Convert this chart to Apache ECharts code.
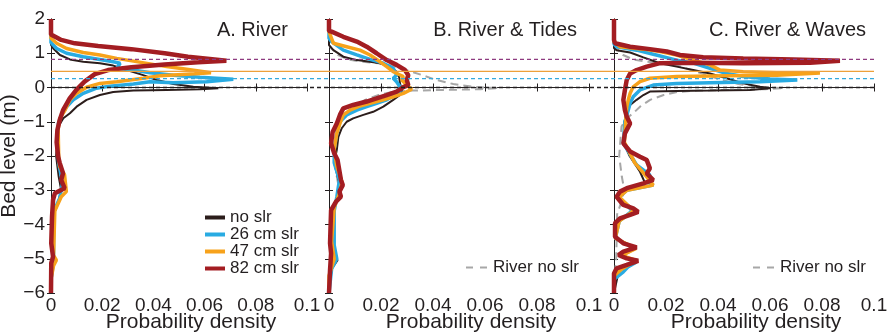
<!DOCTYPE html>
<html>
<head>
<meta charset="utf-8">
<script src="https://cdn.jsdelivr.net/npm/echarts@6/dist/echarts.min.js"></script>
<style>
  html, body { margin: 0; padding: 0; background: #fff; }
  #chart { width: 891px; height: 336px; }
</style>
</head>
<body>
<div id="chart"></div>
<script>
// profiles as [probability density, bed level (m)], read top to bottom
const riverNoSlr = [[0,2],[0,1.25],[0.0009,1.14],[0.0035,0.95],[0.0074,0.82],[0.0126,0.75],[0.0191,0.71],[0.0243,0.64],[0.0296,0.51],[0.036,0.36],[0.0413,0.22],[0.0478,0.10],[0.0556,0.02],[0.0654,-0.02],[0.0582,-0.05],[0.0452,-0.07],[0.0322,-0.09],[0.0243,-0.13],[0.0191,-0.22],[0.0139,-0.36],[0.01,-0.56],[0.0074,-0.75],[0.0048,-0.9],[0.0029,-1.14],[0.0025,-1.5],[0.002,-2.0],[0.003,-2.6],[0.004,-3.0],[0.0027,-3.37],[0.0012,-3.7],[0.001,-4.5],[0.0008,-5.1],[0,-5.6],[0,-6]];
const river26 = [[0,2],[0,1.31],[0.0022,1.14],[0.0061,1.0],[0.0126,0.90],[0.0191,0.82],[0.0243,0.75],[0.027,0.71],[0.0257,0.56],[0.0322,0.51],[0.0387,0.43],[0.0478,0.36],[0.0582,0.30],[0.0712,0.24],[0.0608,0.17],[0.0478,0.14],[0.0387,0.17],[0.0322,0.10],[0.023,0.04],[0.0178,-0.02],[0.0126,-0.17],[0.0087,-0.36],[0.0061,-0.56],[0.0042,-0.80],[0.0029,-1.05],[0.0025,-1.5],[0.003,-2.2],[0.004,-2.6],[0.0045,-2.8],[0.004,-2.99],[0.0034,-3.23],[0.0012,-3.6],[0.001,-4.5],[0.001,-5.1],[0,-5.6],[0,-6]];
const river47 = [[0,2],[0,1.44],[0.0022,1.29],[0.0061,1.14],[0.0126,1.02],[0.0191,0.95],[0.0257,0.85],[0.0322,0.77],[0.0387,0.69],[0.0452,0.61],[0.053,0.53],[0.0625,0.43],[0.053,0.39],[0.0426,0.34],[0.0361,0.27],[0.0257,0.17],[0.0191,0.12],[0.0139,0.01],[0.01,-0.17],[0.0074,-0.36],[0.0055,-0.66],[0.0035,-0.9],[0.0028,-1.2],[0.003,-2.0],[0.0034,-2.31],[0.0053,-2.55],[0.006,-3.04],[0.004,-3.19],[0.0015,-3.6],[0.001,-4.9],[0.0021,-5.04],[0.001,-5.2],[0,-5.6],[0,-6]];
const river82 = [[0,2],[0,1.55],[0.0003,1.50],[0.004,1.39],[0.0093,1.29],[0.0184,1.21],[0.0314,1.12],[0.0444,1.0],[0.0535,0.90],[0.0639,0.82],[0.0685,0.78],[0.0574,0.735],[0.0444,0.67],[0.0314,0.59],[0.0223,0.51],[0.0171,0.39],[0.0131,0.17],[0.0099,-0.07],[0.0073,-0.32],[0.0047,-0.66],[0.0034,-0.95],[0.0025,-1.24],[0.0022,-1.6],[0.0028,-2.02],[0.0034,-2.2],[0.0047,-2.5],[0.004,-2.7],[0.0053,-2.94],[0.0015,-3.09],[0.0008,-3.28],[0.0004,-3.77],[0.0001,-4.55],[0.0008,-4.94],[0.0001,-5.13],[0,-6]];

const tidesNoSlr = [[0,2],[0,1.24],[0.0017,1.09],[0.0055,0.90],[0.0107,0.80],[0.0158,0.75],[0.0196,0.71],[0.0235,0.61],[0.026,0.46],[0.027,0.30],[0.0273,0.12],[0.028,-0.07],[0.0273,-0.22],[0.0247,-0.36],[0.0209,-0.56],[0.017,-0.71],[0.0132,-0.80],[0.0093,-0.90],[0.0068,-1.0],[0.0049,-1.19],[0.0036,-1.44],[0.003,-1.82],[0.002,-2.2],[0.004,-2.8],[0.003,-3.2],[0.002,-3.6],[0.001,-4.5],[0.0015,-4.9],[0.0033,-5.04],[0.001,-5.3],[0,-6]];
const tides26 = [[0,2],[0,1.44],[0.001,1.34],[0.0055,1.09],[0.0107,0.95],[0.0158,0.82],[0.0209,0.71],[0.0247,0.56],[0.026,0.36],[0.0247,0.27],[0.026,0.17],[0.0273,0.02],[0.0273,-0.12],[0.0254,-0.22],[0.0222,-0.36],[0.0183,-0.46],[0.0145,-0.56],[0.0107,-0.66],[0.0068,-0.80],[0.0042,-1.0],[0.003,-1.34],[0.002,-1.8],[0.002,-2.2],[0.004,-2.7],[0.003,-3.2],[0.002,-3.6],[0.002,-4.6],[0.003,-5.0],[0.001,-5.3],[0,-6]];
const tides47 = [[0,2],[0,1.63],[0.0017,1.29],[0.0068,1.19],[0.0119,1.09],[0.0158,0.95],[0.0196,0.75],[0.0222,0.61],[0.0247,0.46],[0.0286,0.32],[0.028,0.22],[0.0299,0.07],[0.0318,-0.05],[0.0286,-0.17],[0.0247,-0.27],[0.0209,-0.36],[0.0158,-0.46],[0.0119,-0.54],[0.0081,-0.66],[0.0055,-0.80],[0.0042,-1.05],[0.003,-1.34],[0.002,-1.8],[0.003,-2.3],[0.005,-2.75],[0.004,-3.1],[0.002,-3.5],[0.001,-4.5],[0.002,-5.0],[0,-5.5],[0,-6]];
const tides82 = [[0,2],[0,1.65],[0.001,1.63],[0.0055,1.48],[0.0107,1.34],[0.0145,1.19],[0.0183,1.0],[0.0222,0.80],[0.026,0.66],[0.0292,0.51],[0.0305,0.36],[0.0299,0.22],[0.0305,0.07],[0.0286,0.01],[0.026,-0.12],[0.0222,-0.22],[0.0183,-0.32],[0.0145,-0.41],[0.0093,-0.51],[0.0055,-0.61],[0.0042,-0.80],[0.003,-1.05],[0.0014,-1.3],[0.0008,-1.63],[0.002,-1.92],[0.0033,-2.12],[0.0046,-2.70],[0.0053,-2.85],[0.004,-3.04],[0.0046,-3.19],[0.0027,-3.33],[0.0008,-3.58],[0.0004,-4.55],[0.0008,-4.84],[0.0004,-5.33],[0,-6]];

const wavesNoSlr = [[0,2],[0,1.15],[0.001,1.09],[0.0062,1.02],[0.0113,0.88],[0.0177,0.71],[0.0241,0.61],[0.0305,0.51],[0.0369,0.41],[0.0433,0.27],[0.0497,0.12],[0.0562,0.02],[0.06,-0.02],[0.0523,-0.07],[0.0369,-0.09],[0.0241,-0.10],[0.0138,-0.12],[0.0113,-0.22],[0.0087,-0.36],[0.0062,-0.51],[0.0049,-0.75],[0.004,-1.0],[0.0036,-1.6],[0.006,-2.0],[0.01,-2.46],[0.012,-2.8],[0.004,-3.0],[0.002,-3.2],[0.008,-3.6],[0.002,-3.9],[0.0005,-4.4],[0.008,-4.68],[0.002,-4.9],[0.009,-5.06],[0.002,-5.3],[0,-6]];
const waves26 = [[0,2],[0,1.27],[0.001,1.19],[0.0087,1.09],[0.0151,0.97],[0.0241,0.80],[0.0305,0.71],[0.0369,0.56],[0.0433,0.41],[0.0497,0.32],[0.06,0.25],[0.0705,0.22],[0.0562,0.17],[0.0369,0.14],[0.0241,0.12],[0.0151,0.07],[0.01,-0.07],[0.0074,-0.27],[0.0062,-0.46],[0.0055,-0.66],[0.0042,-1.0],[0.0036,-1.63],[0.0087,-2.26],[0.0138,-2.55],[0.0132,-2.75],[0.0151,-2.85],[0.0049,-3.0],[0.002,-3.2],[0.007,-3.6],[0.002,-3.9],[0.0005,-4.4],[0.008,-4.7],[0.003,-4.9],[0.0085,-5.1],[0.0055,-5.23],[0.0036,-5.38],[0,-5.6],[0,-6]];
const waves47 = [[0,2],[0,1.33],[0.0023,1.19],[0.0113,1.12],[0.0177,1.05],[0.0241,0.95],[0.0305,0.80],[0.0369,0.66],[0.0408,0.51],[0.0497,0.46],[0.0626,0.43],[0.0792,0.42],[0.0626,0.36],[0.0433,0.34],[0.0241,0.32],[0.0138,0.27],[0.01,0.17],[0.0074,0.02],[0.0062,-0.17],[0.0055,-0.36],[0.0049,-0.56],[0.0045,-1.0],[0.004,-1.6],[0.008,-2.2],[0.0126,-2.61],[0.0151,-2.85],[0.005,-3.0],[0.002,-3.2],[0.0075,-3.6],[0.002,-3.9],[0.0005,-4.4],[0.0085,-4.7],[0.003,-4.9],[0.009,-5.06],[0.0062,-5.15],[0.003,-5.3],[0,-5.5],[0,-6]];
const waves82 = [[0,2],[0,1.39],[0.0004,1.29],[0.0062,1.19],[0.0138,1.12],[0.0203,1.05],[0.0254,0.95],[0.0343,0.88],[0.0497,0.85],[0.069,0.82],[0.0869,0.78],[0.0754,0.72],[0.0497,0.71],[0.0305,0.72],[0.0177,0.71],[0.0126,0.61],[0.0087,0.51],[0.0062,0.41],[0.0049,0.22],[0.0042,-0.07],[0.0036,-0.36],[0.0042,-0.66],[0.0049,-0.85],[0.0062,-1.05],[0.0042,-1.34],[0.0036,-1.63],[0.0062,-1.87],[0.01,-2.02],[0.0126,-2.12],[0.0138,-2.36],[0.0126,-2.51],[0.0151,-2.70],[0.0113,-2.80],[0.0049,-2.94],[0.0023,-3.04],[0.001,-3.19],[0.0036,-3.43],[0.0074,-3.53],[0.0093,-3.63],[0.0062,-3.72],[0.0023,-3.82],[0.0004,-3.96],[0.0004,-4.36],[0.0036,-4.55],[0.0087,-4.67],[0.0036,-4.79],[0.0017,-4.89],[0.0049,-4.99],[0.0093,-5.06],[0.0049,-5.18],[0.001,-5.28],[0,-5.43],[0,-6]];

// mean water levels for each scenario, drawn across all panels
const refLevels = [0.82, 0.47, 0.26, 0];
const scenarioNames = ['no slr', '26 cm slr', '47 cm slr', '82 cm slr'];
const panelTitles = ['A. River', 'B. River & Tides', 'C. River & Waves'];

const FONT = '"Liberation Sans", Arial, sans-serif';
const INK = '#231f20';
const lineColors = ['#2b1d1b', '#29abe2', '#f7a21b', '#a31d22'];
const lineWidths = [2, 3.5, 3.5, 4.5];
const refColors = ['#8e3b80', '#eea03a', '#35a9dc', '#231f20'];

const panels = [
  { left: 51, width: 256, titleRight: 603, profiles: [riverNoSlr, river26, river47, river82], reference: false },
  { left: 329, width: 260, titleRight: 314, profiles: [tidesNoSlr, tides26, tides47, tides82], reference: true },
  { left: 614, width: 260, titleRight: 25, profiles: [wavesNoSlr, waves26, waves47, waves82], reference: true }
];
const TOP = 19, HEIGHT = 274;

const chart = echarts.init(document.getElementById('chart'));

const grid = [], xAxis = [], yAxis = [], series = [], title = [];

panels.forEach((p, i) => {
  grid.push({ left: p.left, top: TOP, width: p.width, height: HEIGHT, outerBoundsMode: 'none' });
  const tick = { show: true, inside: true, length: 4, lineStyle: { color: INK, width: 1 } };
  const axisLine = { show: true, lineStyle: { color: INK, width: 1 } };
  xAxis.push({
    type: 'value', gridIndex: i, min: 0, max: 0.1, interval: 0.02, position: 'bottom',
    axisLine, axisTick: tick, splitLine: { show: false },
    axisLabel: { color: INK, fontSize: 19, fontFamily: FONT, margin: 3 },
    name: 'Probability density', nameLocation: 'middle', nameGap: 19, nameMoveOverlap: false,
    nameTextStyle: { color: INK, fontSize: 21, fontFamily: FONT, padding: [0, 0, 0, 24] }
  });
  xAxis.push({
    type: 'value', gridIndex: i, min: 0, max: 0.1, interval: 0.02, position: 'top',
    axisLine, axisTick: tick, splitLine: { show: false }, axisLabel: { show: false }
  });
  yAxis.push({
    type: 'value', gridIndex: i, min: -6, max: 2, interval: 1, position: 'left',
    axisLine, axisTick: tick, splitLine: { show: false },
    axisLabel: {
      show: i === 0, color: INK, fontSize: 19, fontFamily: FONT, margin: 6,
      formatter: v => String(v).replace('-', '\u2212')
    },
    name: i === 0 ? 'Bed level (m)' : '', nameLocation: 'middle', nameGap: 27,
    nameTextStyle: { color: INK, fontSize: 21, fontFamily: FONT }
  });
  yAxis.push({
    type: 'value', gridIndex: i, min: -6, max: 2, interval: 1, position: 'right',
    axisLine, axisTick: tick, splitLine: { show: false }, axisLabel: { show: false }
  });
  title.push({
    text: panelTitles[i], right: p.titleRight, top: 20, padding: 0,
    textStyle: { color: INK, fontSize: 20, fontWeight: 'normal', fontFamily: FONT }
  });

  if (p.reference) {
    series.push({
      name: 'River no slr', type: 'line', xAxisIndex: 2 * i, yAxisIndex: 2 * i,
      data: riverNoSlr, symbol: 'none', silent: true,
      lineStyle: { color: '#a7a7a7', width: 2, type: [8, 5] },
      itemStyle: { color: '#a7a7a7' }
    });
  }
  p.profiles.forEach((prof, k) => {
    series.push({
      name: scenarioNames[k], type: 'line', xAxisIndex: 2 * i, yAxisIndex: 2 * i,
      data: prof, symbol: 'none', silent: true,
      lineStyle: { color: lineColors[k], width: lineWidths[k] },
      itemStyle: { color: lineColors[k] }
    });
  });
});

// one wide hidden grid so the water-level lines run across all panels
grid.push({ left: 51, top: TOP, width: 823, height: HEIGHT, outerBoundsMode: 'none' });
xAxis.push({ type: 'value', gridIndex: 3, min: 0, max: 1, show: false });
yAxis.push({ type: 'value', gridIndex: 3, min: -6, max: 2, show: false });
refLevels.forEach((lvl, k) => {
  series.push({
    type: 'line', xAxisIndex: 6, yAxisIndex: 6, z: 5, silent: true, symbol: 'none',
    data: [[0, lvl], [1, lvl]],
    lineStyle: { color: refColors[k], width: 1.3, type: k === 1 ? 'solid' : [4, 3] }
  });
});

const legendText = { color: INK, fontSize: 17, fontFamily: FONT, lineHeight: 16.5 };

chart.setOption({
  animation: false,
  backgroundColor: '#fff',
  title,
  grid,
  xAxis,
  yAxis,
  series,
  legend: [
    {
      data: scenarioNames, orient: 'vertical', left: 205, top: 209, padding: 0,
      itemGap: 0, itemWidth: 20, itemHeight: 4, icon: 'rect', selectedMode: false,
      textStyle: legendText
    },
    {
      data: ['River no slr'], left: 465, top: 259, padding: 0,
      itemWidth: 22, itemHeight: 14, selectedMode: false,
      itemStyle: { color: 'rgba(0,0,0,0)', borderWidth: 0 },
      lineStyle: { width: 2, type: [7, 7] },
      textStyle: legendText
    },
    {
      data: ['River no slr'], left: 752, top: 259, padding: 0,
      itemWidth: 22, itemHeight: 14, selectedMode: false,
      itemStyle: { color: 'rgba(0,0,0,0)', borderWidth: 0 },
      lineStyle: { width: 2, type: [7, 7] },
      textStyle: legendText
    }
  ]
});
</script>
</body>
</html>
